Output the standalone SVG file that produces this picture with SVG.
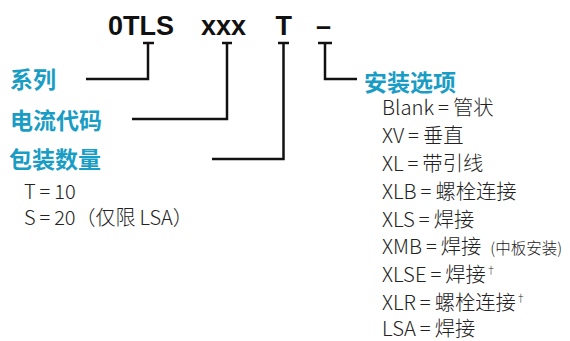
<svg xmlns="http://www.w3.org/2000/svg" width="570" height="341" viewBox="0 0 570 341">
<style>
.code{font-family:"Liberation Sans",Arial,sans-serif;font-weight:bold;font-size:27px;fill:#111}
.lbl{font-family:"Noto Sans CJK SC",sans-serif;font-weight:bold;font-size:23px;fill:#1a9dc5}
.txt{font-family:"Noto Sans CJK SC",sans-serif;font-weight:300;font-size:20.3px;fill:#222;word-spacing:-0.5px}
.big{font-size:20px}
.sm{font-size:15.5px}
.sup{font-size:10px}
.ln{fill:none;stroke:#111;stroke-width:2.5}
</style>
<g id="code">
<text class="code" x="108" y="35">0TLS</text>
<text class="code" x="201" y="35">xxx</text>
<text class="code" x="275.5" y="35">T</text>
<text class="code" x="316" y="35">–</text>
</g>
<g id="connectors">
<path class="ln" d="M143,43H154M148,43V79H86"/>
<path class="ln" d="M222,43H232M227,43V119H132"/>
<path class="ln" d="M278,43H289M283.5,43V159H212"/>
<path class="ln" d="M318,43H332M325,43V79H357"/>
</g>
<g id="series"><text class="lbl" x="10" y="88">系列</text></g>
<g id="current"><text class="lbl" x="10" y="129">电流代码</text></g>
<g id="package">
<text class="lbl" x="9" y="167.5">包装数量</text>
<text class="txt big" x="24" y="199">T = 10</text>
<text class="txt big" x="24" y="225">S = 20（仅限 LSA）</text>
</g>
<g id="mount">
<text class="lbl" x="364" y="90.5">安装选项</text>
<text class="txt" x="382" y="115">Blank = 管状</text>
<text class="txt" x="382" y="143">XV = 垂直</text>
<text class="txt" x="382" y="171">XL = 带引线</text>
<text class="txt" x="382" y="199">XLB = 螺栓连接</text>
<text class="txt" x="382" y="227">XLS = 焊接</text>
<text class="txt" x="382" y="254">XMB = 焊接 <tspan class="sm" dx="5">(中板安装)</tspan></text>
<text class="txt" x="382" y="282">XLSE = 焊接<tspan class="sup" dy="-8">†</tspan></text>
<text class="txt" x="382" y="310">XLR = 螺栓连接<tspan class="sup" dy="-8">†</tspan></text>
<text class="txt" x="382" y="336">LSA = 焊接</text>
</g>
</svg>
